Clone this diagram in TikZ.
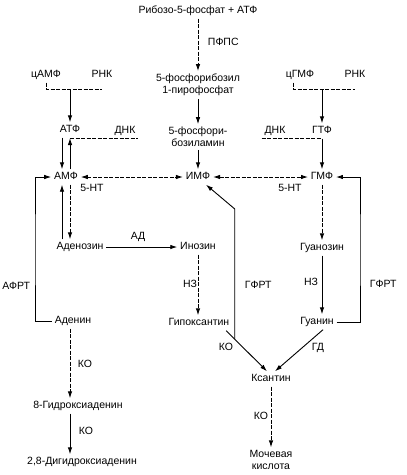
\documentclass[tikz,border=0pt]{standalone}
\usepackage{fontspec}
\setmainfont{Liberation Sans}
\usetikzlibrary{arrows.meta}

\begin{document}
\begin{tikzpicture}[x=1pt,y=-1pt,>={Latex[length=7pt,width=4.5pt]},line width=0.9pt,
  every node/.style={font=\fontsize{10.5}{12}\selectfont,inner sep=2.5pt,text height=7.5pt,text depth=2pt},
  two/.style={align=center,text height={},text depth={}},
  dsh/.style={dash pattern=on 4pt off 1.5pt}]
          \useasboundingbox (0,0) rectangle (407,475);
          \node (rib) at (198,11) {Рибозо-5-фосфат + АТФ};
          \node[two] (prpp) at (198,85) {5-фосфорибозил\\1-пирофосфат};
          \node[two] (pra) at (198,137) {5-фосфори-\\бозиламин};
          \node (imp) at (198,177) {ИМФ};
          \node (camp) at (46,75) {цАМФ};
          \node (rna1) at (102,75) {РНК};
          \node (cgmp) at (300,75) {цГМФ};
          \node (rna2) at (355,75) {РНК};
          \node (atp) at (70,130) {АТФ};
          \node (dna1) at (125,131) {ДНК};
          \node (dna2) at (275,131) {ДНК};
          \node (gtp) at (322,131) {ГТФ};
          \node (amp) at (66,177) {АМФ};
          \node (gmp) at (322,177) {ГМФ};
          \node (ado) at (80,247) {Аденозин};
          \node (ino) at (198,247) {Инозин};
          \node (guo) at (322,248) {Гуанозин};
          \node (ade) at (73,321) {Аденин};
          \node (hyp) at (199,323) {Гипоксантин};
          \node (gua) at (317,322) {Гуанин};
          \node (xan) at (271,379) {Ксантин};
          \node (ohade) at (78,406) {8-Гидроксиаденин};
          \node (dhade) at (82,462) {2,8-Дигидроксиаденин};
          \node[two] (uric) at (271,460) {Мочевая\\кислота};
          \node[anchor=west] (pfps) at (205,43) {ПФПС};
          \node (nt1) at (92,189) {5-НТ};
          \node (nt2) at (290,189) {5-НТ};
          \node (ad) at (138,237) {АД};
          \node[anchor=east] (afrt) at (33,287) {АФРТ};
          \node[anchor=east] (nz1) at (200,285) {НЗ};
          \node[anchor=west] (gfrt1) at (242,286) {ГФРТ};
          \node[anchor=east] (nz2) at (321,283) {НЗ};
          \node[anchor=west] (gfrt2) at (367,285) {ГФРТ};
          \node (ko1) at (226,348) {КО};
          \node (gd) at (318,348) {ГД};
          \node[anchor=west] (ko2) at (75,365) {КО};
          \node[anchor=west] (ko3) at (76,432) {КО};
          \node[anchor=east] (ko4) at (271,417) {КО};
          \coordinate (l1) at (62,0);
          \coordinate (l2) at (70,0);
          \coordinate (j1) at (70,89);
          \coordinate (j2) at (322,89);
          \coordinate (c1) at (70,138);
          \coordinate (c2) at (322,138);
          \coordinate (g2) at (234,209);
          \draw[->,dsh] (rib) -- (prpp);
          \draw[->] (prpp) -- (pra);
          \draw[->] (pra) -- (imp);
          \draw[dsh] (camp.south) |- (j1 -| rna1.south);
          \draw[->] (j1) -- (atp);
          \draw[dsh] ([xshift=-7]cgmp.south) |- (j2 -| rna2.south);
          \draw[->] (j2) -- (gtp);
          \draw[dsh] (c1) -- (c1 -| dna1.east);
          \draw[->] (l2 |- amp.north) -- (c1);
          \draw[->] (l1 |- atp.south) -- (l1 |- amp.north);
          \draw[dsh] (c2 -| dna2.west) -- (c2);
          \draw[->] (gtp) -- (gmp);
          \draw[<->,dsh] (amp) -- (imp);
          \draw[<->,dsh] (imp) -- (gmp);
          \draw[->] (ade.west) -| (35,250) |- (amp.west);
          \draw[->] (gua.east) -| (360,250) |- (gmp.east);
          \draw[->] (l1 |- ado.north) -- (l1 |- amp.south);
          \draw[->,dsh] (l2 |- amp.south) -- (l2 |- ado.north);
          \draw[->] (ado) -- (ino);
          \draw[->,dsh] (ino.south) -- (ino.south |- hyp.north);
          \draw[->,dsh] (gmp) -- (guo);
          \draw[->] (guo.south) -- (guo.south |- gua.north);
          \draw[->] ([xshift=-6]hyp.south east) -- coordinate[pos=0.21] (g1) ([xshift=-4]xan.north);
          \draw[->] ([xshift=6]gua.south) -- ([xshift=4]xan.north);
          \draw[->] (g1) -- (g1 |- g2) -- ([xshift=-7]imp.south east);
          \draw[->,dsh] (xan) -- (uric);
          \draw[->,dsh] (l2 |- ade.south) -- (l2 |- ohade.north);
          \draw[->] (l2 |- ohade.south) -- (l2 |- dhade.north);
        \end{tikzpicture}
\end{document}
